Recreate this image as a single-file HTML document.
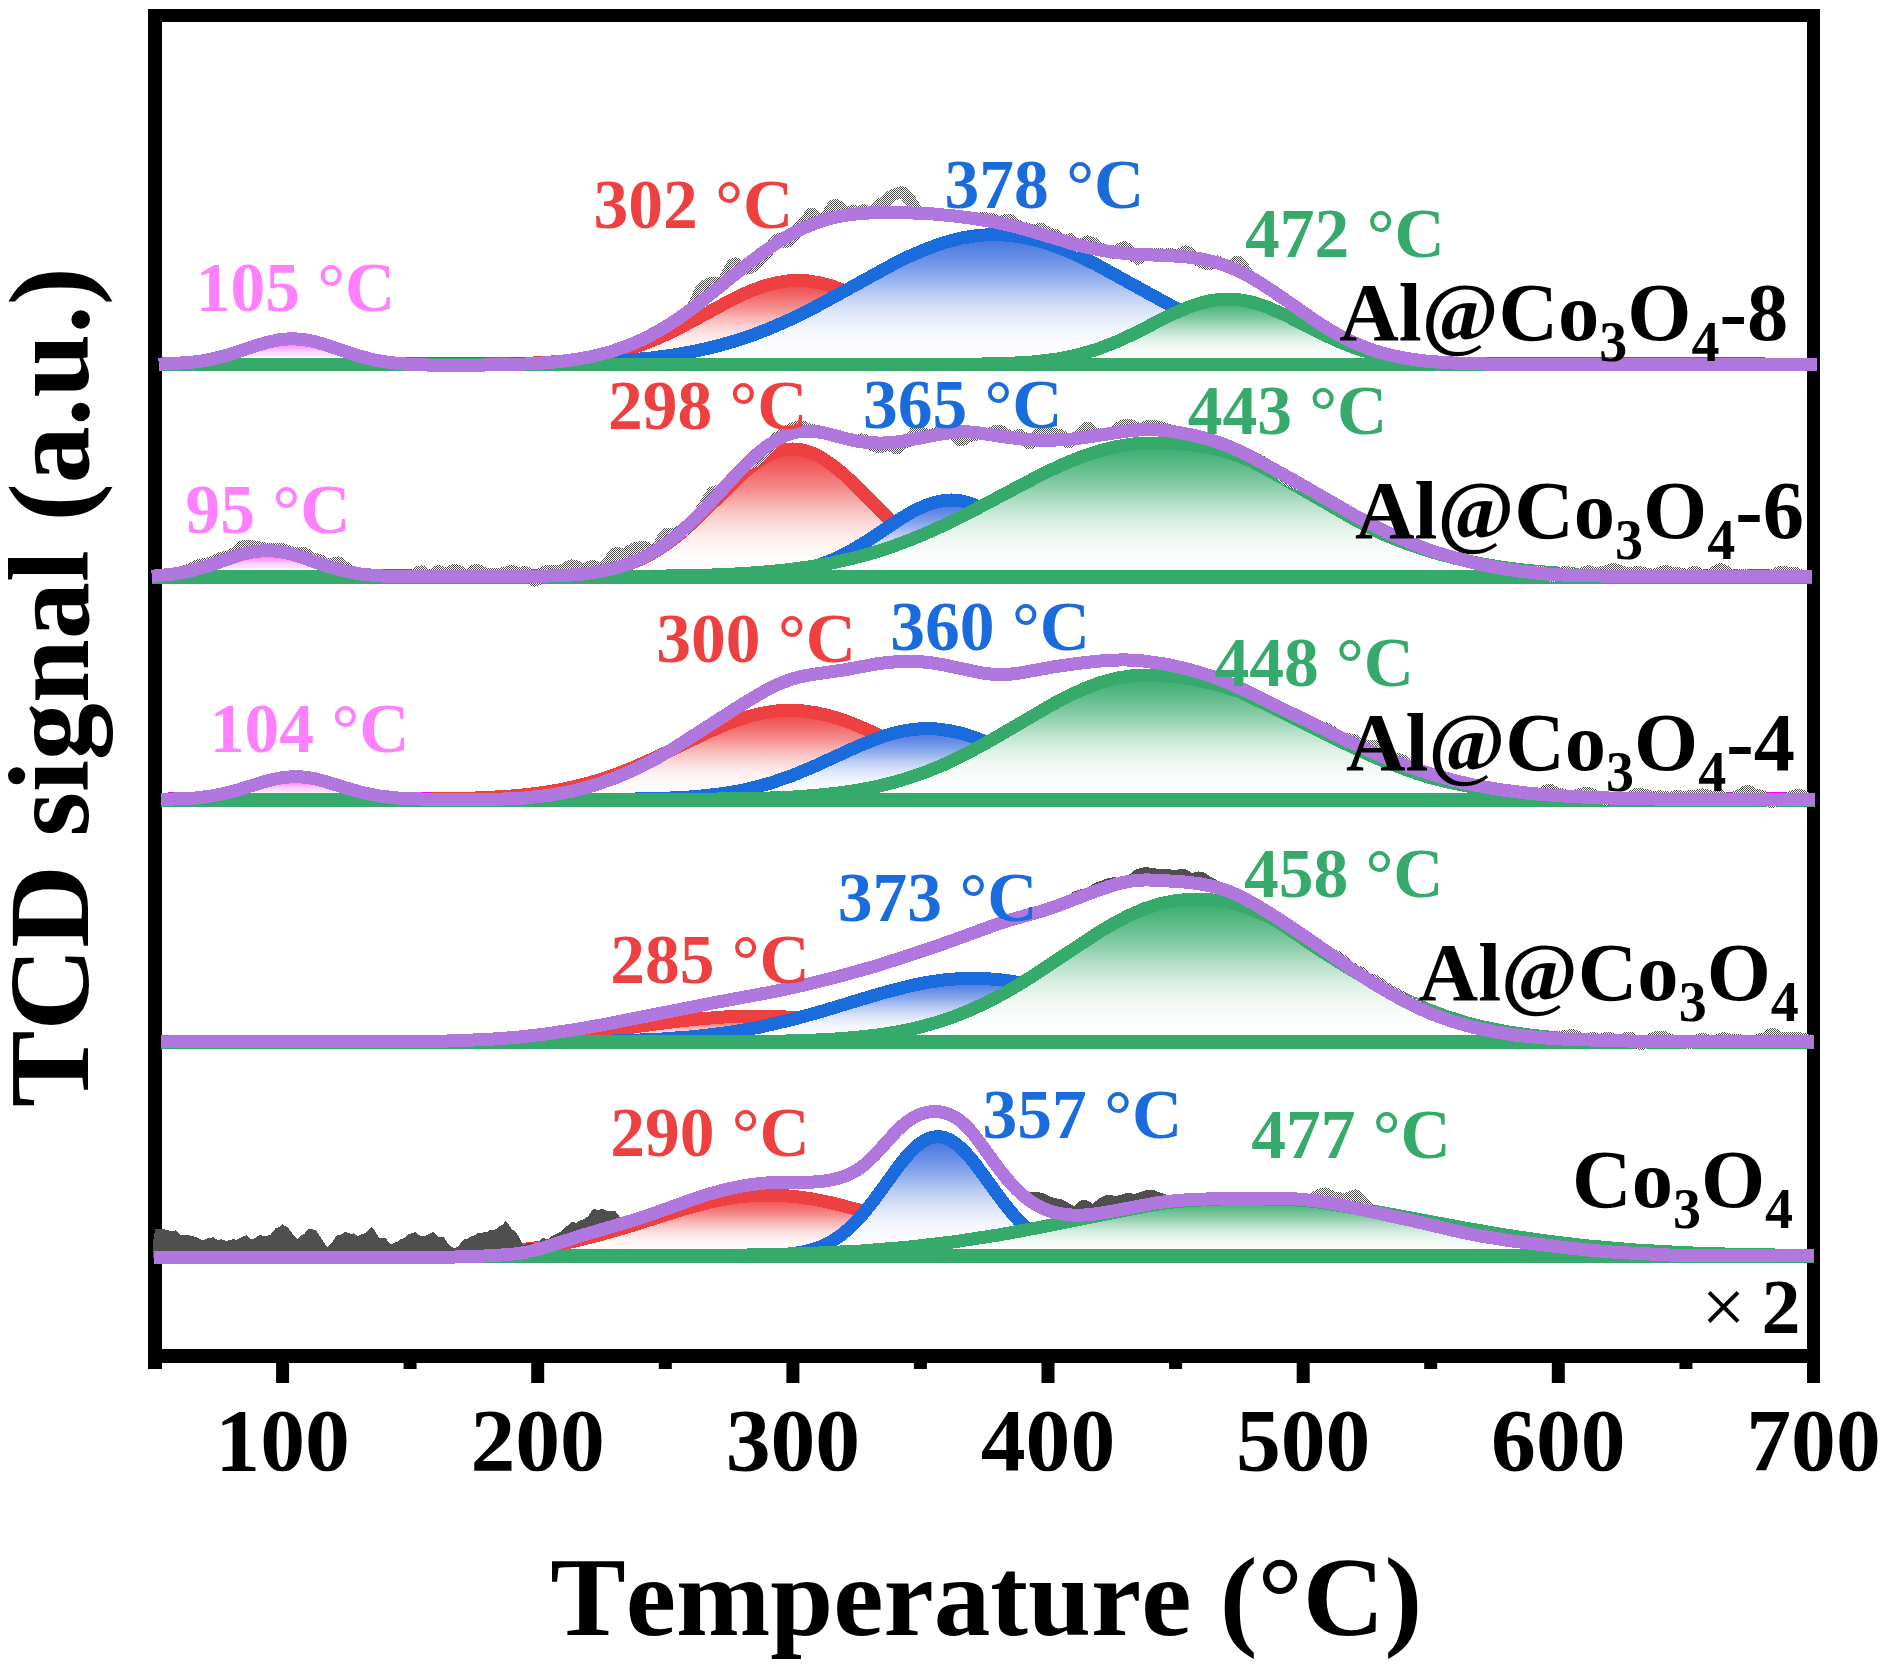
<!DOCTYPE html>
<html lang="en"><head><meta charset="utf-8"><title>TPD profiles</title>
<style>html,body{margin:0;padding:0;background:#fff}svg{display:block}text{font-family:"Liberation Serif",serif;font-weight:bold;font-kerning:none;font-variant-ligatures:none}</style></head><body>
<svg width="1885" height="1670" viewBox="0 0 1885 1670">
<defs>
<linearGradient id="gp" x1="0" y1="0" x2="0" y2="1"><stop offset="0" stop-color="#ff50ff"/><stop offset="0.06" stop-color="#ff5cff"/><stop offset="0.175" stop-color="#ff75ff"/><stop offset="0.31" stop-color="#ff96ff"/><stop offset="0.45" stop-color="#ffc0ff"/><stop offset="0.585" stop-color="#ffe0ff"/><stop offset="0.72" stop-color="#fff4ff"/><stop offset="0.85" stop-color="#fffcff"/><stop offset="1" stop-color="#ffffff"/></linearGradient>
<linearGradient id="gr" x1="0" y1="0" x2="0" y2="1"><stop offset="0" stop-color="#ee4040"/><stop offset="0.06" stop-color="#ef4d4d"/><stop offset="0.175" stop-color="#f26868"/><stop offset="0.31" stop-color="#f58c8c"/><stop offset="0.45" stop-color="#f9baba"/><stop offset="0.585" stop-color="#fcdddd"/><stop offset="0.72" stop-color="#fef3f3"/><stop offset="0.85" stop-color="#fffcfc"/><stop offset="1" stop-color="#ffffff"/></linearGradient>
<linearGradient id="gb" x1="0" y1="0" x2="0" y2="1"><stop offset="0" stop-color="#3e70df"/><stop offset="0.06" stop-color="#4c7ae1"/><stop offset="0.175" stop-color="#678ee6"/><stop offset="0.31" stop-color="#8ba9ec"/><stop offset="0.45" stop-color="#baccf3"/><stop offset="0.585" stop-color="#dce5f9"/><stop offset="0.72" stop-color="#f2f6fd"/><stop offset="0.85" stop-color="#fcfcfe"/><stop offset="1" stop-color="#ffffff"/></linearGradient>
<linearGradient id="gg" x1="0" y1="0" x2="0" y2="1"><stop offset="0" stop-color="#35aa6a"/><stop offset="0.06" stop-color="#43b074"/><stop offset="0.175" stop-color="#5fbc89"/><stop offset="0.31" stop-color="#86cca6"/><stop offset="0.45" stop-color="#b6e0c9"/><stop offset="0.585" stop-color="#dbf0e4"/><stop offset="0.72" stop-color="#f2f9f5"/><stop offset="0.85" stop-color="#fbfdfc"/><stop offset="1" stop-color="#ffffff"/></linearGradient>
<clipPath id="clip"><rect x="150" y="9" width="1668.5" height="1354"/></clipPath>
<pattern id="dith" width="2" height="2" patternUnits="userSpaceOnUse"><rect width="2" height="2" fill="#fff"/><rect width="1" height="1" fill="#4d4d4d"/><rect x="1" y="1" width="1" height="1" fill="#4d4d4d"/></pattern>
</defs>
<rect width="1885" height="1670" fill="#fff"/>
<g fill="#000">
<rect x="148" y="9" width="1672" height="13"/>
<rect x="148" y="9" width="14" height="1360"/>
<rect x="1807" y="9" width="13" height="1374"/>
<rect x="148" y="1349" width="1672" height="14"/>
<rect x="276.1" y="1349" width="13" height="34"/>
<rect x="531.2" y="1349" width="13" height="34"/>
<rect x="786.4" y="1349" width="13" height="34"/>
<rect x="1041.5" y="1349" width="13" height="34"/>
<rect x="1296.7" y="1349" width="13" height="34"/>
<rect x="1551.8" y="1349" width="13" height="34"/>
<rect x="403.6" y="1349" width="13" height="20"/>
<rect x="658.8" y="1349" width="13" height="20"/>
<rect x="913.9" y="1349" width="13" height="20"/>
<rect x="1169.1" y="1349" width="13" height="20"/>
<rect x="1424.2" y="1349" width="13" height="20"/>
<rect x="1679.4" y="1349" width="13" height="20"/>
</g>
<g clip-path="url(#clip)" stroke="none" shape-rendering="crispEdges">
<rect x="161.4" y="356.9" width="1603.6" height="1.3" fill="#FF00FF"/>
<path d="M165.2,363.9 189.4,362.4 209.9,359.3 229,354.4 258.3,344.5 269.8,341.1 281.3,338.8 292.8,338 304.3,338.8 315.7,341.1 327.2,344.5 357.8,354.8 369.3,357.9 379.5,360 391,361.8 403.8,363.1 436.9,364.3 L436.9,364.5 L165.2,364.5 Z" fill="url(#gp)"/>
<path d="M165.2,363.9 189.4,362.4 199.7,361.1 209.9,359.3 229,354.4 258.3,344.5 269.8,341.1 281.3,338.8 292.8,338 304.3,338.8 315.7,341.1 327.2,344.5 357.8,354.8 369.3,357.9 379.5,360 391,361.8 403.8,363.1 419.1,363.9 436.9,364.3" fill="none" stroke="#FF00FF" stroke-width="2.0" stroke-linejoin="round" stroke-linecap="butt"/>
<path d="M477.8,364.3 526.2,363.4 562,361.4 591.3,357.8 605.3,355.2 618.1,352.2 641.1,345 664,335.5 685.7,324.7 731.6,299.8 753.3,289.9 764.8,285.8 776.3,282.8 787.8,281 798,280.5 808.2,281 819.7,282.8 831.1,285.8 842.6,289.9 864.3,299.8 910.2,324.7 931.9,335.5 954.9,345 977.9,352.2 990.6,355.2 1004.6,357.8 1034,361.4 1069.7,363.4 1118.2,364.3 L1118.2,366.5 L477.8,366.5 Z" fill="url(#gr)"/>
<path d="M477.8,364.3 526.2,363.4 562,361.4 577.3,359.8 591.3,357.8 605.3,355.2 618.1,352.2 629.6,348.9 641.1,345 652.5,340.5 664,335.5 685.7,324.7 731.6,299.8 743.1,294.2 753.3,289.9 764.8,285.8 776.3,282.8 787.8,281 798,280.5 808.2,281 819.7,282.8 831.1,285.8 842.6,289.9 852.8,294.2 864.3,299.8 910.2,324.7 931.9,335.5 943.4,340.5 954.9,345 966.4,348.9 977.9,352.2 990.6,355.2 1004.6,357.8 1018.7,359.8 1034,361.4 1069.7,363.4 1118.2,364.3" fill="none" stroke="#EE4040" stroke-width="13.0" stroke-linejoin="round" stroke-linecap="round"/>
<path d="M489.2,364.3 570.9,363.1 600.2,362 627,360.3 651.3,358 674.2,354.9 695.9,351 716.3,346.3 734.2,341.2 752.1,335.3 769.9,328.4 789,320 822.2,303.3 892.4,264.7 910.2,255.9 925.6,249.3 943.4,242.8 961.3,238.1 977.9,235.4 994.4,234.5 1011,235.4 1027.6,238.1 1045.5,242.8 1063.3,249.3 1078.6,255.9 1096.5,264.7 1166.7,303.3 1199.8,320 1219,328.4 1236.8,335.3 1254.7,341.2 1272.6,346.3 1293,351 1314.7,354.9 1337.6,358 1361.9,360.3 1388.7,362 1418,363.1 1499.6,364.3 L1499.6,366.5 L489.2,366.5 Z" fill="url(#gb)"/>
<path d="M489.2,364.3 570.9,363.1 600.2,362 627,360.3 651.3,358 674.2,354.9 695.9,351 716.3,346.3 734.2,341.2 752.1,335.3 769.9,328.4 789,320 804.4,312.6 822.2,303.3 892.4,264.7 910.2,255.9 925.6,249.3 943.4,242.8 961.3,238.1 977.9,235.4 994.4,234.5 1011,235.4 1027.6,238.1 1045.5,242.8 1063.3,249.3 1078.6,255.9 1096.5,264.7 1166.7,303.3 1184.5,312.6 1199.8,320 1219,328.4 1236.8,335.3 1254.7,341.2 1272.6,346.3 1293,351 1314.7,354.9 1337.6,358 1361.9,360.3 1388.7,362 1418,363.1 1499.6,364.3" fill="none" stroke="#1A6CDC" stroke-width="13.0" stroke-linejoin="round" stroke-linecap="round"/>
<path d="M966.4,364.3 1004.6,363.6 1032.7,362 1057,359.1 1078.6,354.7 1097.8,349.1 1116.9,341.6 1134.8,333.3 1171.8,314.4 1189.6,306.7 1199.8,303.3 1208.8,301 1219,299.4 1227.9,299 1236.8,299.4 1247,301 1256,303.3 1266.2,306.7 1284,314.4 1321,333.3 1338.9,341.6 1358,349.1 1377.2,354.7 1398.9,359.1 1423.1,362 1451.2,363.6 1489.4,364.3 L1489.4,366.5 L966.4,366.5 Z" fill="url(#gg)"/>
<path d="M966.4,364.3 1004.6,363.6 1032.7,362 1057,359.1 1078.6,354.7 1097.8,349.1 1116.9,341.6 1134.8,333.3 1171.8,314.4 1189.6,306.7 1199.8,303.3 1208.8,301 1219,299.4 1227.9,299 1236.8,299.4 1247,301 1256,303.3 1266.2,306.7 1284,314.4 1321,333.3 1338.9,341.6 1358,349.1 1377.2,354.7 1398.9,359.1 1423.1,362 1451.2,363.6 1489.4,364.3" fill="none" stroke="#35AA6A" stroke-width="13.0" stroke-linejoin="round" stroke-linecap="round"/>
<rect x="158.7" y="357.6" width="1658.7" height="13.8" fill="#35AA6A"/>
<path d="M685.7,313.4 689.5,310.3 692.1,307.6 694.6,303.4 701,289.5 704.8,285.7 708.7,283.7 712.5,282.5 715.1,282.5 718.9,283.4 721.4,282.8 722.7,281.6 725.3,277.9 731.6,265.8 732.9,264.3 734.2,263.5 735.5,263.3 736.7,263.6 743.1,267.8 745.7,268.7 749.5,268.2 753.3,266.3 757.2,262.8 769.9,248.4 776.3,240.1 777.6,239.4 778.8,239.3 783.9,242 785.2,242.3 787.8,241.7 790.3,239.9 792.9,237 798,229 800.5,226.3 804.4,223.1 809.5,215.5 810.7,214 812,213.5 813.3,213.9 814.6,215.2 818.4,220.2 819.7,221 820.9,221.3 822.2,221.1 824.8,219.2 826,217.6 832.4,206.4 833.7,205.2 835,204.7 836.3,205 837.5,205.8 842.6,210.3 846.5,211.8 849,211.9 854.1,211.2 857.9,211.6 863,210.3 865.6,211 869.4,213.4 872,213.4 874.5,211.4 879.6,204.9 882.2,202.9 886,201.1 891.1,196.3 893.7,194.8 901.3,192.3 902.6,192.4 905.1,194.4 910.2,200.3 915.3,208.2 917.9,211.2 920.4,212.4 925.6,213.5" fill="none" stroke="url(#dith)" stroke-width="12" stroke-linejoin="round" stroke-linecap="round"/>
<path d="M976.6,218.9 981.7,217.4 984.2,217.5 988.1,218.3 993.2,218.7 998.3,221.1 1000.8,221.7 1005.9,219.6 1008.5,219.2 1011,220.3 1018.7,226 1021.2,226.8 1025.1,227.2 1031.4,229.8 1034,229.8 1039.1,228.4 1041.6,228.4 1049.3,233.2 1055.7,234.4 1058.2,236.4 1062.1,240.5 1063.3,241.2 1064.6,241.3 1068.4,239 1069.7,238.6 1071,239.1 1072.3,240.2 1076.1,245.2 1077.4,246.2 1078.6,246.5 1079.9,246.1 1083.7,242.7 1086.3,241.1 1087.6,240.9 1090.1,241.5 1094,243.2 1101.6,248.7 1111.8,253.4 1113.1,253.7 1115.6,252.9 1120.7,247.9 1122,247 1124.6,246.8 1128.4,249.2 1130.9,251.9 1134.8,257.1 1137.3,259.2 1138.6,259.2 1139.9,258.6 1143.7,255 1146.3,253.9 1151.4,253.9 1156.5,253.3 1164.1,254.2 1170.5,253.5 1176.9,254.7 1179.4,254 1184.5,251 1185.8,250.9 1188.4,251.9 1194.7,258.4 1197.3,260.4 1204.9,264.1 1207.5,265 1210,264.5 1215.1,261.3 1217.7,260.9 1220.3,262.1 1225.4,266.6 1227.9,267.6 1230.5,266.7 1236.8,261.2 1238.1,261.4 1239.4,262 1241.9,264.3 1248.3,274.2 1252.1,278.1" fill="none" stroke="url(#dith)" stroke-width="11" stroke-linejoin="round" stroke-linecap="round"/>
<path d="M165.2,363.9 189.4,362.5 199.7,361.3 209.9,359.5 229,354.8 258.3,345 268.5,342 280,339.6 291.5,338.7 303,339.4 315.7,341.9 327.2,345.3 356.6,355.3 373.2,359.7 389.7,362.6 408.9,364.3 429.3,365.1 458.6,365.3 494.3,364.9 523.7,364.1 542.8,363 560.7,361.4 576,359.4 591.3,356.6 610.4,351.8 629.6,345.1 647.4,337.1 665.3,327.1 680.6,317 695.9,305.9 745.7,265.7 763.5,252.1 781.4,240 790.3,234.7 799.3,230.1 808.2,226 818.4,222 828.6,218.9 838.8,216.5 849,214.7 860.5,213.5 872,212.8 884.7,212.6 912.8,213 933.2,214 953.6,215.9 974,218.5 994.4,222 1013.6,226.2 1030.2,230.8 1072.3,243.6 1086.3,247.1 1101.6,250.2 1115.6,252.4 1130.9,254 1174.3,256 1188.4,257.1 1202.4,259.2 1215.1,262.2 1225.4,265.5 1234.3,269.1 1244.5,273.9 1254.7,279.6 1272.6,291 1318.5,322.9 1332.5,331.6 1346.6,339.2 1360.6,345.6 1375.9,351.2 1391.2,355.4 1407.8,358.7 1424.4,360.9 1442.2,362.4 1463.9,363.5 1490.7,364.1 1562.2,364.5 1810.9,364.5" fill="none" stroke="#B078DE" stroke-width="13.0" stroke-linejoin="round" stroke-linecap="square"/>
<rect x="160.1" y="569.4" width="1627.9" height="1.3" fill="#FF00FF"/>
<path d="M158.3,575.6 174.9,573.9 190.2,571 205.5,566.8 233.6,557.1 245.1,553.6 256.5,551.3 268,550.5 278.2,551.3 289.7,553.6 299.9,556.7 330.5,567.3 351,572.4 362.4,574.3 375.2,575.6 407.1,576.8 L407.1,577.0 L158.3,577.0 Z" fill="url(#gp)"/>
<path d="M158.3,575.6 174.9,573.9 190.2,571 205.5,566.8 233.6,557.1 245.1,553.6 256.5,551.3 268,550.5 278.2,551.3 289.7,553.6 299.9,556.7 330.5,567.3 340.7,570.2 351,572.4 362.4,574.3 375.2,575.6 389.2,576.4 407.1,576.8" fill="none" stroke="#FF00FF" stroke-width="2.0" stroke-linejoin="round" stroke-linecap="butt"/>
<path d="M516.8,576.8 561.5,575.7 578,574.5 592.1,572.9 604.8,570.7 617.6,567.7 629.1,564 640.6,559.3 650.8,554.2 659.7,548.8 669.9,541.8 680.1,533.8 698,517.7 737.5,478.5 746.4,470.5 755.4,463.5 765.6,456.9 774.5,452.6 783.4,450 792.4,449 801.3,449.8 811.5,452.7 820.4,457 830.6,463.7 839.6,470.7 848.5,478.7 888,517.9 905.9,534 916.1,542 926.3,549 935.2,554.3 945.5,559.4 956.9,564.1 968.4,567.8 981.2,570.8 993.9,572.9 1008,574.5 1024.6,575.7 1069.2,576.8 L1069.2,579.0 L516.8,579.0 Z" fill="url(#gr)"/>
<path d="M516.8,576.8 561.5,575.7 578,574.5 592.1,572.9 604.8,570.7 617.6,567.7 629.1,564 640.6,559.3 650.8,554.2 659.7,548.8 669.9,541.8 680.1,533.8 698,517.7 737.5,478.5 746.4,470.5 755.4,463.5 765.6,456.9 774.5,452.6 783.4,450 792.4,449 801.3,449.8 806.4,451 811.5,452.7 820.4,457 830.6,463.7 839.6,470.7 848.5,478.7 888,517.9 905.9,534 916.1,542 926.3,549 935.2,554.3 945.5,559.4 956.9,564.1 968.4,567.8 981.2,570.8 993.9,572.9 1008,574.5 1024.6,575.7 1069.2,576.8" fill="none" stroke="#EE4040" stroke-width="13.0" stroke-linejoin="round" stroke-linecap="round"/>
<path d="M713.3,576.8 749,576 774.5,574.2 796.2,571.1 806.4,568.8 816.6,565.9 833.2,559.6 851,550.7 867.6,540.7 902.1,517.8 918.7,508.6 927.6,504.7 935.2,502.3 944.2,500.5 951.8,500 959.5,500.6 967.1,502.3 974.8,505.1 982.5,508.9 996.5,517.8 1027.1,540.6 1041.1,550.3 1056.4,559 1071.8,565.6 1089.6,570.8 1108.8,574.1 1131.7,576 1163.6,576.8 L1163.6,579.0 L713.3,579.0 Z" fill="url(#gb)"/>
<path d="M713.3,576.8 749,576 774.5,574.2 796.2,571.1 806.4,568.8 816.6,565.9 833.2,559.6 851,550.7 867.6,540.7 902.1,517.8 911,512.5 918.7,508.6 927.6,504.7 935.2,502.3 944.2,500.5 951.8,500 959.5,500.6 967.1,502.3 974.8,505.1 982.5,508.9 996.5,517.8 1027.1,540.6 1041.1,550.3 1056.4,559 1071.8,565.6 1080.7,568.5 1089.6,570.8 1108.8,574.1 1131.7,576 1163.6,576.8" fill="none" stroke="#1A6CDC" stroke-width="13.0" stroke-linejoin="round" stroke-linecap="round"/>
<path d="M607.4,576.8 695.4,575.6 728.6,574.4 756.6,572.7 783.4,570.3 807.7,567.1 830.6,563.2 852.3,558.4 871.5,553.3 890.6,547.2 909.7,540.1 930.1,531.6 965.9,514.4 1042.4,474 1061.5,465 1078.1,458.1 1097.3,451.5 1116.4,446.6 1134.3,443.9 1152.1,443 1178.9,443.9 1201.9,446.3 1221,450.4 1240.2,456.6 1251.6,461.2 1264.4,468 1298.8,487.3 1352.4,518.2 1380.5,533.2 1399.6,540.9 1417.5,547.3 1436.6,553.3 1455.8,558.4 1478.7,563.3 1501.7,567.2 1525.9,570.3 1552.7,572.7 1582.1,574.4 1615.2,575.6 1704.5,576.8 L1704.5,579.0 L607.4,579.0 Z" fill="url(#gg)"/>
<path d="M607.4,576.8 695.4,575.6 728.6,574.4 756.6,572.7 783.4,570.3 807.7,567.1 830.6,563.2 852.3,558.4 871.5,553.3 890.6,547.2 909.7,540.1 930.1,531.6 946.7,523.9 965.9,514.4 1042.4,474 1061.5,465 1078.1,458.1 1097.3,451.5 1116.4,446.6 1134.3,443.9 1152.1,443 1178.9,443.9 1190.4,444.8 1201.9,446.3 1212.1,448.2 1221,450.4 1229.9,453 1240.2,456.6 1251.6,461.2 1264.4,468 1298.8,487.3 1352.4,518.2 1380.5,533.2 1399.6,540.9 1417.5,547.3 1436.6,553.3 1455.8,558.4 1478.7,563.3 1501.7,567.2 1525.9,570.3 1552.7,572.7 1582.1,574.4 1615.2,575.6 1704.5,576.8" fill="none" stroke="#35AA6A" stroke-width="13.0" stroke-linejoin="round" stroke-linecap="round"/>
<rect x="151.8" y="570.1" width="1660.0" height="13.8" fill="#35AA6A"/>
<path d="M181.3,572.6 185.1,570.8 191.5,568.8 197.9,565.2 206.8,563.8 213.2,561.8 220.8,558 228.5,556.4 234.9,552.9 242.5,546.2 245.1,545.5 257.8,547.1 266.8,549 282.1,548.7 288.4,551.5 292.3,552.7 296.1,553 301.2,552.6 303.8,553 306.3,554.3 312.7,558.5 320.3,560.2 325.4,563.3 328,564.3 330.5,564.3 335.6,562.7 338.2,562.4 339.5,562.9 345.9,568.1 353.5,572.7" fill="none" stroke="url(#dith)" stroke-width="12" stroke-linejoin="round" stroke-linecap="round"/>
<path d="M410.9,576.5 414.7,574.8 418.6,572.1 421.1,571.3 422.4,571.7 427.5,576 428.8,576.4 431.3,575.6 435.2,572.5 437.7,571.4 439,571.4 445.4,573 447.9,572.5 451.7,570.8 454.3,570.1 458.1,570.8 464.5,574.4 467,575.2 469.6,574.4 473.4,571.2 476,570 478.5,570.4 484.9,574 488.7,574.6 504,573.2 510.4,571.3 513,571.1 519.4,573.3 524.5,572.2 525.7,572.2 527,572.8 528.3,573.8 532.1,578.7 534.7,580.6 535.9,580.5 537.2,579.7 542.3,573.1 544.9,571.4 552.5,570.6 555.1,570.9 557.6,571.8 560.2,571.8 567.8,566.9 571.7,565.5 575.5,565.7 580.6,569.1 583.1,569.9 585.7,569.2 589.5,566.6 592.1,565.7 594.6,566.4 598.5,568.8 601,569.1 602.3,568.7 604.8,566.6 612.5,556.2 615,553.6 617.6,552.9 621.4,553.9 624,554 626.5,552.9 632.9,549 641.8,546.7 644.4,547 650.8,550.2 653.3,550.4 654.6,549.9 657.1,548 658.4,546.3 663.5,537 666.1,534.2 667.3,533.8 671.2,534.6 673.7,534.3 678.8,532 682.7,531.1 685.2,529.9 687.8,527.4 692.9,520.3 701.8,509.3 712,493.3 713.3,492 717.1,491 719.6,489.8 726,484.1 728.6,482.4" fill="none" stroke="url(#dith)" stroke-width="12" stroke-linejoin="round" stroke-linecap="round"/>
<path d="M742.6,467.7 745.2,465.1 747.7,463.3 754.1,461.9 756.6,460.3 761.7,454.2 768.1,448.1 775.8,438.8 778.3,436.9 783.4,434.1 789.8,429.6 792.4,428.3 800,426.5 802.6,426.5 810.2,429.8 815.3,430.6 823,432.5" fill="none" stroke="url(#dith)" stroke-width="12" stroke-linejoin="round" stroke-linecap="round"/>
<path d="M857.4,440.8 861.3,439.4 865.1,439.8 874,445.7 876.6,446.7 880.4,447.4 882.9,446.7 886.8,444.1 888,443.7 889.3,443.8 894.4,447.9 895.7,448.4 897,448.3 898.3,447.5 903.4,442.7 908.5,441 909.7,440.1 914.8,432.7 916.1,431.3 917.4,430.7 918.7,430.7 919.9,431.3 925,434.5 928.9,435.5 931.4,435.2 935.2,433.7 937.8,433.1 944.2,434.3 949.3,432.8 950.6,432.8 953.1,434.3 958.2,439.5 960.8,440.4 963.3,439.6 968.4,436.6 973.5,435.3 978.6,433.1 981.2,432.7 986.3,434.1 988.8,434.2 995.2,430.9 997.8,430.5 1002.9,432.1 1009.2,436.7 1011.8,437.8 1014.3,437.3 1018.2,435.3 1019.4,435.1 1020.7,435.5 1023.3,437.5 1027.1,441.9 1028.4,442.9 1029.7,443.2 1030.9,442.9 1032.2,442 1037.3,435.4 1039.9,433.7 1045,433.8 1050.1,433.3 1055.2,434.4 1060.3,434.9 1062.8,437 1066.7,441.5 1067.9,442.3 1069.2,442.3 1070.5,441.8 1075.6,437.3 1079.4,435 1082,432.5 1084.5,429 1085.8,427.9 1087.1,427.5 1088.3,427.8 1089.6,428.7 1094.7,433.2 1098.5,435" fill="none" stroke="url(#dith)" stroke-width="12" stroke-linejoin="round" stroke-linecap="round"/>
<path d="M1112.6,432.6 1120.2,427 1126.6,424.6 1131.7,425.5 1138.1,428.5 1140.6,428.9 1143.2,428.1 1148.3,425.6 1152.1,425.6 1161.1,427.2 1175.1,431.7" fill="none" stroke="url(#dith)" stroke-width="12" stroke-linejoin="round" stroke-linecap="round"/>
<path d="M1227.4,445.6 1231.2,447.3 1241.4,453.3 1249.1,455.6 1261.8,460.9 1273.3,468.2 1287.4,480.7 1293.7,483.2 1302.7,485.5" fill="none" stroke="url(#dith)" stroke-width="11" stroke-linejoin="round" stroke-linecap="round"/>
<path d="M1533.6,572.6 1538.7,571.6 1542.5,571.7 1545.1,572.6 1550.2,575.8 1552.7,576.4 1555.3,575.9 1561.6,572.5 1564.2,571.7 1568,571.7 1575.7,574.7 1578.2,575 1580.8,574 1585.9,571 1588.4,570.8 1593.5,572.3 1597.4,572.5 1603.7,571.5 1611.4,569 1613.9,568.7 1616.5,569.1 1622.9,571.7 1628,573 1630.5,572.9 1636.9,571.6 1639.5,571.6 1648.4,573.7 1652.2,574.1 1656,573.6 1661.2,571.4 1663.7,570.8 1667.5,571 1675.2,572.9 1680.3,573 1686.7,574.6 1687.9,574.4 1693,571.9 1694.3,571.6 1696.9,572.3 1702,575.4 1704.5,576 1708.4,575.2 1717.3,569.9 1719.8,568.9 1721.1,568.9 1723.7,569.6 1731.3,574.7 1733.9,575.6 1741.5,574.3 1756.8,576.5 1760.7,576.5 1770.9,574.9 1779.8,571.8 1783.6,571.3 1790,572.8 1796.4,572.8 1802.8,576.5 1805.3,577.4" fill="none" stroke="url(#dith)" stroke-width="11" stroke-linejoin="round" stroke-linecap="round"/>
<path d="M158.3,575.6 174.9,573.9 190.2,571 206.8,566.4 233.6,557.1 243.8,553.9 255.3,551.4 266.8,550.5 278.2,551.3 289.7,553.6 301.2,557.1 328,566.5 344.6,571.1 359.9,573.9 377.7,575.8 395.6,576.6 418.6,576.9 527,576.7 565.3,575.4 580.6,574.2 593.3,572.6 612.5,568.8 621.4,566.3 630.3,563.2 639.3,559.5 646.9,555.7 655.9,550.6 663.5,545.6 677.5,534.8 691.6,522 705.6,507.7 738.8,471.7 747.7,462.8 756.6,454.5 766.8,446.4 775.8,440.5 786,435.4 794.9,432.4 805.1,431 815.3,431.4 825.5,433.2 847.2,439 857.4,441.2 868.9,442.7 880.4,443.1 890.6,442.7 902.1,441.4 941.6,433.9 958.2,431.9 967.1,431.8 976.1,432.5 1008,437.4 1023.3,439.2 1037.3,440.1 1051.3,440.2 1064.1,439.7 1076.9,438.6 1127.9,430.9 1139.4,429.9 1149.6,429.7 1158.5,430 1168.7,430.9 1190.4,434.6 1209.5,439.4 1227.4,445.7 1242.7,452.6 1260.6,461.9 1296.3,481.8 1356.2,516.3 1374.1,525.9 1392,534.8 1412.4,543.7 1432.8,551.3 1454.5,557.9 1477.4,563.7 1499.1,568 1520.8,571.3 1545.1,573.9 1568,575.4 1633.1,576.6 1805.3,577" fill="none" stroke="#B078DE" stroke-width="13.0" stroke-linejoin="round" stroke-linecap="square"/>
<rect x="167.8" y="792.0" width="1620.2" height="1.3" fill="#FF00FF"/>
<path d="M167.8,799.3 194.5,798.1 215,795.5 234.1,791.1 273.6,779.3 285.1,777.2 295.3,776.6 305.5,777.2 317,779.3 357.8,791.5 377,795.7 399.9,798.3 429.3,799.4 L429.3,799.6 L167.8,799.6 Z" fill="url(#gp)"/>
<path d="M167.8,799.3 194.5,798.1 215,795.5 234.1,791.1 263.4,782 273.6,779.3 285.1,777.2 295.3,776.6 305.5,777.2 317,779.3 327.2,782 357.8,791.5 377,795.7 388.5,797.3 399.9,798.3 429.3,799.4" fill="none" stroke="#FF00FF" stroke-width="2.0" stroke-linejoin="round" stroke-linecap="butt"/>
<path d="M406.3,799.4 465,798.5 507.1,796.4 526.2,794.7 542.8,792.6 559.4,789.9 574.7,786.6 601.5,779.3 629.6,769.1 655.1,757.8 710,731.3 724,725.2 736.7,720.3 750.8,715.9 764.8,712.7 777.6,710.9 790.3,710.3 803.1,710.9 815.8,712.7 829.9,715.9 843.9,720.3 856.7,725.2 870.7,731.3 925.6,757.8 951.1,769.1 979.1,779.3 1005.9,786.6 1021.2,789.9 1037.8,792.6 1054.4,794.7 1073.5,796.4 1115.6,798.5 1174.3,799.4 L1174.3,801.6 L406.3,801.6 Z" fill="url(#gr)"/>
<path d="M406.3,799.4 465,798.5 507.1,796.4 526.2,794.7 542.8,792.6 559.4,789.9 574.7,786.6 588.8,783.1 601.5,779.3 615.5,774.5 629.6,769.1 655.1,757.8 710,731.3 724,725.2 736.7,720.3 750.8,715.9 764.8,712.7 777.6,710.9 790.3,710.3 803.1,710.9 815.8,712.7 829.9,715.9 843.9,720.3 856.7,725.2 870.7,731.3 925.6,757.8 951.1,769.1 965.1,774.5 979.1,779.3 991.9,783.1 1005.9,786.6 1021.2,789.9 1037.8,792.6 1054.4,794.7 1073.5,796.4 1115.6,798.5 1174.3,799.4" fill="none" stroke="#EE4040" stroke-width="13.0" stroke-linejoin="round" stroke-linecap="round"/>
<path d="M611.7,799.4 658.9,798.6 693.4,796.8 722.7,793.7 748.2,789 771.2,782.9 794.2,774.8 814.6,766.2 860.5,745.1 882.2,736.7 893.7,733.2 905.1,730.6 916.6,729.1 926.8,728.6 937,729 948.5,730.5 960,732.9 972.8,736.8 994.4,745.2 1040.4,766.3 1060.8,774.9 1083.7,782.9 1106.7,789.1 1132.2,793.7 1161.6,796.9 1196,798.6 1243.2,799.4 L1243.2,801.6 L611.7,801.6 Z" fill="url(#gb)"/>
<path d="M611.7,799.4 658.9,798.6 693.4,796.8 722.7,793.7 735.5,791.6 748.2,789 771.2,782.9 794.2,774.8 814.6,766.2 860.5,745.1 882.2,736.7 893.7,733.2 905.1,730.6 916.6,729.1 926.8,728.6 937,729 948.5,730.5 960,732.9 972.8,736.8 994.4,745.2 1040.4,766.3 1060.8,774.9 1083.7,782.9 1106.7,789.1 1119.5,791.6 1132.2,793.7 1161.6,796.9 1196,798.6 1243.2,799.4" fill="none" stroke="#1A6CDC" stroke-width="13.0" stroke-linejoin="round" stroke-linecap="round"/>
<path d="M690.8,799.4 763.5,798.3 790.3,797.2 814.6,795.5 836.3,793.3 856.7,790.4 875.8,786.8 894.9,782.1 911.5,777 926.8,771.6 943.4,764.8 960,757 989.3,741.3 1053.1,704 1069.7,695.4 1083.7,688.9 1100.3,682.6 1115.6,678.4 1130.9,675.9 1145,675.1 1169.2,676.2 1193.5,679.4 1215.1,684.1 1239.4,691.6 1264.9,703.8 1336.3,739.5 1373.3,756.6 1395,765.5 1415.4,773 1428.2,777.1 1448.6,782.2 1471.6,786.8 1494.5,790.4 1518.8,793.3 1545.6,795.5 1573.6,797.1 1606.8,798.3 1694.8,799.4 L1694.8,801.6 L690.8,801.6 Z" fill="url(#gg)"/>
<path d="M690.8,799.4 763.5,798.3 790.3,797.2 814.6,795.5 836.3,793.3 856.7,790.4 875.8,786.8 894.9,782.1 911.5,777 926.8,771.6 943.4,764.8 960,757 989.3,741.3 1053.1,704 1069.7,695.4 1083.7,688.9 1100.3,682.6 1115.6,678.4 1130.9,675.9 1145,675.1 1169.2,676.2 1182,677.6 1193.5,679.4 1215.1,684.1 1239.4,691.6 1264.9,703.8 1336.3,739.5 1373.3,756.6 1395,765.5 1415.4,773 1428.2,777.1 1448.6,782.2 1471.6,786.8 1494.5,790.4 1518.8,793.3 1545.6,795.5 1573.6,797.1 1606.8,798.3 1694.8,799.4" fill="none" stroke="#35AA6A" stroke-width="13.0" stroke-linejoin="round" stroke-linecap="round"/>
<rect x="161.3" y="792.7" width="1653.6" height="13.8" fill="#35AA6A"/>
<path d="M1315.9,725.5 1319.8,726.6 1324.9,727.3 1327.4,728.2 1335.1,733.6 1341.4,737 1345.3,738.5 1351.7,739.1 1354.2,739.7 1356.8,741.1 1361.9,744.7 1364.4,745.8 1367,746 1373.3,745.2 1375.9,745.9 1378.4,748 1384.8,755.3 1387.4,757.3 1391.2,758.5 1397.6,758.6 1402.7,760.2 1418,769.8" fill="none" stroke="url(#dith)" stroke-width="11" stroke-linejoin="round" stroke-linecap="round"/>
<path d="M1532.8,793.7 1539.2,793.7 1541.7,793.1 1548.1,789 1550.7,789.5 1555.8,792.3 1558.3,793.2 1571.1,796 1573.6,795.7 1581.3,793.2 1587.7,792.4 1591.5,793.4 1596.6,796.1 1606.8,800.2 1609.4,799.8 1613.2,798 1615.7,797.4 1622.1,798.2 1627.2,797.7 1631,796.3 1636.1,793.7 1638.7,793.2 1646.4,794.6 1652.7,796.3 1660.4,795.8 1669.3,797.3 1677,795.3 1682.1,796.5 1684.6,796.6 1689.7,795.7 1694.8,795.6 1702.5,794 1705,794.3 1711.4,796.2 1714,795.9 1717.8,794.5 1719.1,794.4 1721.6,795.4 1725.4,798.8 1728,799.9 1730.6,799.3 1740.8,793.8 1744.6,791.3 1747.1,790.4 1749.7,791.2 1754.8,794.6 1759.9,794.8 1762.4,795.6 1768.8,801.2 1771.4,802.4 1773.9,802 1779,800 1786.7,798.1 1793.1,795.6 1798.2,794.2 1802,795.1 1808.4,798.2" fill="none" stroke="url(#dith)" stroke-width="11" stroke-linejoin="round" stroke-linecap="round"/>
<path d="M167.8,799.3 194.5,798.1 215,795.5 234.1,791.1 263.4,782 273.6,779.3 283.9,777.4 294.1,776.6 304.3,777.1 314.5,778.7 324.7,781.3 351.5,789.6 365.5,793.3 380.8,796.2 397.4,798 412.7,798.8 434.4,799.3 491.8,799.5 522.4,798.2 549.2,795.4 572.2,791.2 593.9,785.4 615.5,777.8 637.2,768.4 653.8,759.9 671.7,749.6 740.6,705.4 761,693.1 772.5,687 781.4,682.9 790.3,679.5 800.5,676.7 812,674.5 842.6,670.2 877.1,663.8 888.6,662.4 900,661.5 915.3,661.3 929.4,662.5 943.4,664.8 981.7,672.9 991.9,674.2 1002.1,674.6 1011,674.1 1020,673 1054.4,666.7 1081.2,663 1104.2,660.6 1122,659.9 1132.2,660.1 1142.4,660.9 1166.7,664.3 1189.6,669.5 1211.3,676.2 1227.9,682.6 1247,691.2 1338.9,736.8 1361.9,747.5 1382.3,756.4 1405.2,765.4 1429.5,773.5 1452.4,780.1 1474.1,785.1 1499.6,789.6 1526.4,793 1554.5,795.5 1587.7,797.3 1623.4,798.5 1665.5,799.2 1808.4,799.6" fill="none" stroke="#B078DE" stroke-width="13.0" stroke-linejoin="round" stroke-linecap="square"/>
<path d="M396.1,1041.8 476.5,1040.6 508.4,1039.4 537.7,1037.6 590,1032.7 670.4,1022.1 697.2,1019.1 726.5,1016.8 754.6,1016 782.7,1016.8 812,1019.1 838.8,1022.1 919.2,1032.7 971.5,1037.6 1000.8,1039.4 1032.7,1040.6 1113.1,1041.8 L1113.1,1044.0 L396.1,1044.0 Z" fill="url(#gr)"/>
<path d="M396.1,1041.8 476.5,1040.6 508.4,1039.4 537.7,1037.6 563.2,1035.5 590,1032.7 670.4,1022.1 697.2,1019.1 726.5,1016.8 754.6,1016 782.7,1016.8 812,1019.1 838.8,1022.1 919.2,1032.7 946,1035.5 971.5,1037.6 1000.8,1039.4 1032.7,1040.6 1113.1,1041.8" fill="none" stroke="#EE4040" stroke-width="13.0" stroke-linejoin="round" stroke-linecap="round"/>
<path d="M547.9,1041.8 609.2,1041.1 655.1,1039.5 694.6,1036.6 729.1,1032.5 759.7,1027.1 791.6,1019.7 819.7,1011.9 880.9,993.4 911.5,985.5 928.1,982.2 943.4,980 958.7,978.7 972.8,978.3 986.8,978.7 1002.1,980 1017.4,982.2 1034,985.5 1064.6,993.4 1125.8,1011.9 1153.9,1019.7 1185.8,1027.1 1216.4,1032.5 1250.9,1036.6 1290.4,1039.5 1336.3,1041.1 1397.6,1041.8 L1397.6,1044.0 L547.9,1044.0 Z" fill="url(#gb)"/>
<path d="M547.9,1041.8 609.2,1041.1 655.1,1039.5 694.6,1036.6 729.1,1032.5 759.7,1027.1 791.6,1019.7 819.7,1011.9 880.9,993.4 911.5,985.5 928.1,982.2 943.4,980 958.7,978.7 972.8,978.3 986.8,978.7 1002.1,980 1017.4,982.2 1034,985.5 1064.6,993.4 1125.8,1011.9 1153.9,1019.7 1185.8,1027.1 1216.4,1032.5 1250.9,1036.6 1290.4,1039.5 1336.3,1041.1 1397.6,1041.8" fill="none" stroke="#1A6CDC" stroke-width="13.0" stroke-linejoin="round" stroke-linecap="round"/>
<path d="M727.8,1041.8 803.1,1040.6 831.1,1039.3 855.4,1037.5 878.4,1034.9 898.8,1031.7 917.9,1027.6 937,1022.3 953.6,1016.7 970.2,1010.1 986.8,1002.4 1003.4,993.7 1034,975.2 1097.8,932.9 1114.4,923.1 1128.4,915.7 1145,908.5 1160.3,903.6 1175.6,900.6 1190.9,899.6 1212.6,900 1229.2,902.3 1245.8,907.1 1264.9,915 1272.6,918.5 1275.1,920.1 1295.5,933.4 1315.9,947.6 1346.6,966.8 1368.2,979.8 1386.1,989.8 1406.5,1000.1 1425.6,1008.6 1444.8,1015.9 1465.2,1022.4 1485.6,1027.5 1506,1031.6 1529,1035 1553.2,1037.5 1580,1039.4 1609.4,1040.6 1691,1041.8 L1691.0,1044.0 L727.8,1044.0 Z" fill="url(#gg)"/>
<path d="M727.8,1041.8 769.9,1041.4 803.1,1040.6 831.1,1039.3 855.4,1037.5 878.4,1034.9 898.8,1031.7 917.9,1027.6 937,1022.3 953.6,1016.7 970.2,1010.1 986.8,1002.4 1003.4,993.7 1018.7,984.8 1034,975.2 1097.8,932.9 1114.4,923.1 1128.4,915.7 1145,908.5 1160.3,903.6 1175.6,900.6 1183.3,899.9 1190.9,899.6 1212.6,900 1221.5,901 1229.2,902.3 1236.8,904.2 1245.8,907.1 1264.9,915 1272.6,918.5 1275.1,920.1 1295.5,933.4 1315.9,947.6 1346.6,966.8 1368.2,979.8 1386.1,989.8 1406.5,1000.1 1425.6,1008.6 1444.8,1015.9 1465.2,1022.4 1485.6,1027.5 1506,1031.6 1529,1035 1553.2,1037.5 1580,1039.4 1609.4,1040.6 1645.1,1041.4 1691,1041.8" fill="none" stroke="#35AA6A" stroke-width="13.0" stroke-linejoin="round" stroke-linecap="round"/>
<rect x="161.3" y="1035.1" width="1652.3" height="13.8" fill="#35AA6A"/>
<path d="M1060.8,904.7 1065.9,901.2 1072.3,898 1076.1,895.3 1087.6,892.2 1097.8,886.7 1108,883 1113.1,881.9 1122,882.3 1129.7,880.8 1134.8,880.5" fill="none" stroke="#4f4f4f" stroke-width="9" stroke-linejoin="round" stroke-linecap="round"/>
<path d="M1129.7,881.2 1133.5,878.9 1138.6,874.8 1142.4,873.6 1145,873.3 1150.1,873.6 1157.7,875 1167.9,874.9 1174.3,876.4 1176.9,876.1 1182,874.6 1184.5,875.4 1188.4,877.8 1190.9,878.8 1193.5,878.8 1198.6,877.5 1201.1,877.6 1206.2,881.2 1212.6,884.5 1216.4,887.3" fill="none" stroke="#4f4f4f" stroke-width="12" stroke-linejoin="round" stroke-linecap="round"/>
<path d="M1328.7,953.3 1335.1,955.3 1337.6,956.5 1344,960.9 1351.7,967.6 1354.2,969.2 1360.6,972.1 1368.2,978.5 1374.6,980.1 1377.2,981.4 1389.9,990.2 1397.6,993.6 1405.2,1000.2 1411.6,1002.9 1420.5,1007.6 1425.6,1011.3" fill="none" stroke="url(#dith)" stroke-width="11" stroke-linejoin="round" stroke-linecap="round"/>
<path d="M1527.7,1036.5 1534.1,1036.4 1540.5,1037.4 1545.6,1037.2 1554.5,1037.7 1558.3,1037.1 1564.7,1035.2 1572.4,1034.8 1576.2,1035.9 1580,1038.6 1582.6,1039.8 1585.1,1039.7 1591.5,1037.5 1594,1037.8 1597.9,1039.4 1600.4,1039.7 1605.5,1037.7 1608.1,1037.2 1610.6,1037.8 1615.7,1040.4 1618.3,1040.8 1620.8,1040.1 1627.2,1037.3 1629.8,1037.1 1632.3,1038.3 1638.7,1044 1641.2,1044.6 1643.8,1043.5 1648.9,1039.8 1651.5,1038.4 1656.6,1036.7 1660.4,1036.1 1662.9,1036.4 1665.5,1037.3 1674.4,1041.4 1677,1041.5 1680.8,1040.1 1682.1,1040.1 1683.3,1040.5 1687.2,1043 1689.7,1043.5 1692.3,1042.8 1699.9,1038.7 1702.5,1038.2 1705,1038.5 1712.7,1041.4 1715.2,1041.3 1721.6,1038 1724.2,1037.7 1731.8,1039.5 1739.5,1039.5 1747.1,1041.8 1751,1042 1758.6,1039 1765,1037.7 1770.1,1034.1 1772.7,1033.4 1775.2,1034.3 1780.3,1037.4 1782.9,1038.1 1790.5,1037.5 1798.2,1037.7 1803.3,1038.3 1807.1,1039.5" fill="none" stroke="url(#dith)" stroke-width="11" stroke-linejoin="round" stroke-linecap="round"/>
<path d="M167.8,1042 382.1,1041.9 421.6,1041.6 452.2,1040.9 488,1039.4 516,1037.4 544.1,1034.2 577.3,1029.3 602.8,1024.7 718.9,1001.8 775,991.4 805.6,984.7 837.5,976.8 873.2,966.8 914.1,953.8 947.2,942.4 998.3,923.8 1012.3,919.4 1040.4,911.5 1054.4,907 1095.2,891.3 1110.5,886 1120.7,883.1 1129.7,881.2 1138.6,880.2 1147.5,879.9 1179.4,881.5 1190.9,882.6 1201.1,884 1211.3,886.1 1220.3,888.4 1229.2,891.5 1236.8,894.7 1253.4,903.3 1278.9,919 1301.9,934.3 1354.2,971 1373.3,983.3 1392.5,994.6 1412.9,1005.4 1432,1014 1452.4,1021.4 1472.8,1027.2 1493.3,1031.6 1516.2,1035.2 1539.2,1037.6 1564.7,1039.2 1615.7,1040.8 1655.3,1041.5 1807.1,1042" fill="none" stroke="#B078DE" stroke-width="13.0" stroke-linejoin="round" stroke-linecap="square"/>
<path d="M378.8,1255.8 434.9,1255.1 477,1253.5 512.7,1250.8 544.6,1246.7 572.7,1241.5 600.7,1234.7 626.3,1227.3 683.7,1209.2 710.5,1202 725.8,1198.9 739.8,1196.7 753.8,1195.4 767.9,1195 781.9,1195.4 797.2,1196.8 812.5,1199 827.8,1202 857.2,1209.4 917.1,1227.1 945.2,1234.7 975.8,1241.7 1005.2,1246.7 1039.6,1250.8 1077.9,1253.5 1122.5,1255.1 1182.5,1255.8 L1182.5,1258.0 L378.8,1258.0 Z" fill="url(#gr)"/>
<path d="M378.8,1255.8 434.9,1255.1 477,1253.5 512.7,1250.8 544.6,1246.7 572.7,1241.5 600.7,1234.7 626.3,1227.3 683.7,1209.2 710.5,1202 725.8,1198.9 739.8,1196.7 753.8,1195.4 767.9,1195 781.9,1195.4 797.2,1196.8 812.5,1199 827.8,1202 857.2,1209.4 917.1,1227.1 945.2,1234.7 975.8,1241.7 1005.2,1246.7 1039.6,1250.8 1077.9,1253.5 1122.5,1255.1 1182.5,1255.8" fill="none" stroke="#EE4040" stroke-width="13.0" stroke-linejoin="round" stroke-linecap="round"/>
<path d="M752.6,1255.8 781.9,1254.7 793.4,1253.5 802.3,1252.1 811.2,1250 820.2,1246.9 827.8,1243.5 835.5,1239 841.9,1234.5 848.2,1229.2 854.6,1223.1 862.3,1214.7 873.8,1200.4 899.3,1165.4 912,1150.4 918.4,1144.6 924.8,1140.2 931.2,1137.5 937.5,1136.5 943.9,1137.3 950.3,1139.9 956.7,1144.2 963.1,1149.9 969.4,1156.8 975.8,1164.7 1001.3,1199.7 1014.1,1215.6 1021.7,1223.9 1028.1,1229.9 1034.5,1235.1 1040.9,1239.5 1048.5,1243.8 1056.2,1247.2 1063.8,1249.8 1072.8,1252 1081.7,1253.5 1093.2,1254.7 1123.8,1255.8 L1123.8,1258.0 L752.6,1258.0 Z" fill="url(#gb)"/>
<path d="M752.6,1255.8 781.9,1254.7 793.4,1253.5 802.3,1252.1 811.2,1250 820.2,1246.9 827.8,1243.5 835.5,1239 841.9,1234.5 848.2,1229.2 854.6,1223.1 862.3,1214.7 873.8,1200.4 899.3,1165.4 905.7,1157.4 912,1150.4 918.4,1144.6 924.8,1140.2 931.2,1137.5 937.5,1136.5 943.9,1137.3 950.3,1139.9 956.7,1144.2 963.1,1149.9 969.4,1156.8 975.8,1164.7 1001.3,1199.7 1014.1,1215.6 1021.7,1223.9 1028.1,1229.9 1034.5,1235.1 1040.9,1239.5 1048.5,1243.8 1056.2,1247.2 1063.8,1249.8 1072.8,1252 1081.7,1253.5 1093.2,1254.7 1123.8,1255.8" fill="none" stroke="#1A6CDC" stroke-width="13.0" stroke-linejoin="round" stroke-linecap="round"/>
<path d="M659.4,1255.8 743.6,1255.1 806.1,1253.6 859.7,1251.1 908.2,1247.2 954.1,1241.8 1000.1,1234.7 1042.2,1226.9 1145.5,1206.2 1162.1,1203.4 1188.9,1200.7 1223.3,1198.9 1243.7,1198.5 1292.2,1199.7 1306.2,1200.7 1319,1202.1 1381.5,1212.5 1465.7,1228.2 1504,1234.8 1547.4,1241.2 1589.5,1246.1 1635.4,1250 1683.9,1252.7 1740,1254.5 1807.6,1255.5 L1807.6,1258.0 L659.4,1258.0 Z" fill="url(#gg)"/>
<path d="M659.4,1255.8 743.6,1255.1 806.1,1253.6 859.7,1251.1 908.2,1247.2 954.1,1241.8 1000.1,1234.7 1042.2,1226.9 1145.5,1206.2 1162.1,1203.4 1174.8,1201.8 1188.9,1200.7 1223.3,1198.9 1243.7,1198.5 1292.2,1199.7 1306.2,1200.7 1319,1202.1 1381.5,1212.5 1465.7,1228.2 1504,1234.8 1547.4,1241.2 1589.5,1246.1 1635.4,1250 1683.9,1252.7 1740,1254.5 1807.6,1255.5" fill="none" stroke="#35AA6A" stroke-width="13.0" stroke-linejoin="round" stroke-linecap="round"/>
<rect x="154.1" y="1249.1" width="1660.0" height="13.8" fill="#35AA6A"/>
<path d="M153.4,1240.2 154.4,1233.1 155.4,1229.5 159.4,1228.8 165.4,1229.6 171.4,1231.2 175.4,1230.4 180.4,1234.7 184.4,1234.7 190.4,1235.5 198.4,1238 202.4,1240.4 203.4,1240.3 206.4,1238.6 209.4,1238.3 213.4,1236.9 217.4,1240 221.4,1239.3 226.4,1240.9 232.4,1239.3 236.4,1239.6 244.4,1235.8 246.4,1235.3 247.4,1235.7 250.4,1238.7 252.4,1239.4 259.4,1235.3 261.4,1235.3 264.4,1236.2 270.4,1234.9 275.4,1228.5 279.4,1226.8 282.4,1224.2 287.4,1227.3 290.4,1230.5 294.4,1236.3 297.4,1238.7 300.4,1235.9 304.4,1233.8 308.4,1229.1 310.4,1228.7 313.4,1229.6 315.4,1229.5 327.4,1247.4 329.4,1244.7 332.4,1242 336.4,1235.7 342.4,1234.2 345.4,1231.7 350.4,1233.8 353.4,1233.4 354.4,1233.7 357.4,1236.2 366.4,1232.4 371.4,1227.3 372.4,1227.6 374.4,1229.7 378.4,1237 379.4,1238.1 380.4,1238.3 383.4,1237.5 385.4,1238 389.4,1242.8 391.4,1244.1 392.4,1244.2 394.4,1242.6 397.4,1242 400.4,1239.5 404.4,1238.1 407.4,1234.7 413.4,1232.6 415.4,1232.3 416.4,1232.7 419.4,1235.4 421.4,1236.1 426.4,1235.4 432.4,1232 434.4,1232.9 438.4,1237.4 443.4,1237 444.4,1237.8 448.4,1244.1 451.4,1246.5 454.4,1248.1 455.4,1248.2 458.4,1246.1 463.4,1239.7 467.4,1238.7 470.4,1236.7 474.4,1235.3 478.4,1232.7 486.4,1232.4 490.4,1229.9 494.4,1230.2 499.4,1226.3 502.4,1224.9 505.4,1221.4 507.4,1223 512.4,1229.7 515.4,1231.5 516.4,1232.6 523.4,1245.5 527.4,1243.2 529.4,1242.6 533.4,1243.4 537.4,1242.6 539.4,1241.7 542.4,1238.5 543.4,1238.1 546.4,1239 548.4,1238.7 553.4,1235.1 559.4,1232.5 571.4,1222.2 576.4,1222.6 579.4,1220.6 584.4,1218.9 588.4,1215.9 592.4,1209.9 594.4,1209 597.4,1210.3 598.4,1210.3 602.4,1208.6 607.4,1211.1 615.4,1211.2 619.4,1216.7 624.4,1219.1 630.4,1224.3 632.4,1224.2 632.4,1226.2 630.4,1226.3 626.4,1222.8 625.4,1222.7 581.4,1235.5 547.4,1246.7 535.4,1250.2 520.4,1253.2 500.4,1255.2 464.4,1256.8 416.4,1257.6 153.4,1257.5Z" fill="#4f4f4f"/>
<path d="M1028.1,1198.9 1032,1197.9 1034.5,1197.7 1037.1,1197.9 1042.2,1199.3 1049.8,1202.9 1061.3,1205.6 1071.5,1211.9 1074.1,1212.8 1076.6,1212.1 1081.7,1207 1083,1206.2 1084.3,1205.9 1085.5,1206.3 1090.6,1209.7 1091.9,1210.1 1094.5,1209.6 1104.7,1202.1 1108.5,1200.8 1116.2,1202.3 1127.6,1199 1134,1199.9 1136.6,1199.6 1146.8,1196.3 1150.6,1195.7 1151.9,1195.8 1155.7,1197.6 1167.2,1201.2" fill="none" stroke="#4f4f4f" stroke-width="12" stroke-linejoin="round" stroke-linecap="round"/>
<path d="M1311.3,1199.8 1317.7,1195.9 1322.8,1193.8 1325.4,1193.3 1326.6,1193.6 1330.5,1196.3 1333,1197.6 1343.2,1198.9 1347.1,1198.4 1356,1195.4 1357.3,1195.8 1358.5,1197.1 1364.9,1204.8 1371.3,1211.1" fill="none" stroke="url(#dith)" stroke-width="12" stroke-linejoin="round" stroke-linecap="round"/>
<path d="M160.6,1257.5 392.8,1257.7 437.5,1257.4 469.3,1256.7 494.9,1255.5 512.7,1254.2 526.8,1252.2 543.3,1247.9 580.3,1235.9 633.9,1220.1 650.5,1214.5 699,1197.2 713,1192.9 727,1189.2 746.2,1185.3 764,1183.1 778.1,1182.4 808.7,1182.3 821.5,1181.5 832.9,1179.6 843.1,1176.8 849.5,1174.2 854.6,1171.6 861,1167.5 866.1,1163.5 875,1154.9 896.7,1131 903.1,1125 908.2,1120.9 914.6,1116.9 921,1114 927.3,1112.2 935,1111.4 942.6,1112.2 950.3,1114.7 958,1119 964.3,1124.2 969.4,1129.4 975.8,1137 997.5,1166.9 1006.4,1178.3 1016.6,1189.5 1025.6,1197.5 1033.2,1203.1 1042.2,1208 1051.1,1211.5 1061.3,1213.9 1068.9,1214.9 1076.6,1215.2 1084.3,1215 1093.2,1214.2 1109.8,1211.7 1155.7,1203 1169.7,1201.2 1185,1199.9 1209.3,1198.9 1259,1198.3 1279.4,1198.3 1296,1198.9 1317.7,1201 1339.4,1204.7 1414.7,1221.2 1461.9,1232.3 1481,1236.1 1511.6,1240.9 1570.3,1248.2 1593.3,1250.5 1616.2,1252.3 1669.8,1255 1717,1255.9 1807.6,1256" fill="none" stroke="#B078DE" stroke-width="13.0" stroke-linejoin="round" stroke-linecap="square"/>
</g>
<text x="195.7" y="311.0" font-size="69.5" fill="#FF80FF" xml:space="preserve">105 °C</text>
<text x="593.6" y="227.5" font-size="69.5" fill="#EE4040" xml:space="preserve">302 °C</text>
<text x="944.5" y="207.8" font-size="69.5" fill="#1A6CDC" xml:space="preserve">378 °C</text>
<text x="1245.1" y="256.5" font-size="69.5" fill="#35AA6A" xml:space="preserve">472 °C</text>
<text x="185.6" y="532.8" font-size="69.5" fill="#FF80FF" xml:space="preserve">95 °C</text>
<text x="607.9" y="429.0" font-size="69.5" fill="#EE4040" xml:space="preserve">298 °C</text>
<text x="862.9" y="427.7" font-size="69.5" fill="#1A6CDC" xml:space="preserve">365 °C</text>
<text x="1187.7" y="433.8" font-size="69.5" fill="#35AA6A" xml:space="preserve">443 °C</text>
<text x="209.8" y="751.9" font-size="69.5" fill="#FF80FF" xml:space="preserve">104 °C</text>
<text x="656.3" y="662.0" font-size="69.5" fill="#EE4040" xml:space="preserve">300 °C</text>
<text x="890.3" y="650.0" font-size="69.5" fill="#1A6CDC" xml:space="preserve">360 °C</text>
<text x="1214.4" y="686.2" font-size="69.5" fill="#35AA6A" xml:space="preserve">448 °C</text>
<text x="610.2" y="982.8" font-size="69.5" fill="#EE4040" xml:space="preserve">285 °C</text>
<text x="837.8" y="920.7" font-size="69.5" fill="#1A6CDC" xml:space="preserve">373 °C</text>
<text x="1243.9" y="896.9" font-size="69.5" fill="#35AA6A" xml:space="preserve">458 °C</text>
<text x="610.2" y="1155.5" font-size="69.5" fill="#EE4040" xml:space="preserve">290 °C</text>
<text x="982.5" y="1138.4" font-size="69.5" fill="#1A6CDC" xml:space="preserve">357 °C</text>
<text x="1251.2" y="1158.0" font-size="69.5" fill="#35AA6A" xml:space="preserve">477 °C</text>
<text x="1788.2" y="340.2" font-size="82.5" text-anchor="end" fill="#000">Al@Co<tspan font-size="56" dy="21">3</tspan><tspan dy="-21">O</tspan><tspan font-size="56" dy="21">4</tspan><tspan dy="-21">-8</tspan></text>
<text x="1804.0" y="538.0" font-size="82.5" text-anchor="end" fill="#000">Al@Co<tspan font-size="56" dy="21">3</tspan><tspan dy="-21">O</tspan><tspan font-size="56" dy="21">4</tspan><tspan dy="-21">-6</tspan></text>
<text x="1794.9" y="769.7" font-size="82.5" text-anchor="end" fill="#000">Al@Co<tspan font-size="56" dy="21">3</tspan><tspan dy="-21">O</tspan><tspan font-size="56" dy="21">4</tspan><tspan dy="-21">-4</tspan></text>
<text x="1798.8" y="1000.2" font-size="82.5" text-anchor="end" fill="#000">Al@Co<tspan font-size="56" dy="21">3</tspan><tspan dy="-21">O</tspan><tspan font-size="56" dy="21">4</tspan></text>
<text x="1793.1" y="1207.2" font-size="82.5" text-anchor="end" fill="#000">Co<tspan font-size="56" dy="21">3</tspan><tspan dy="-21">O</tspan><tspan font-size="56" dy="21">4</tspan></text>
<text x="1800.5" y="1332.8" font-size="78" text-anchor="end" fill="#000" xml:space="preserve"><tspan font-weight="normal">×</tspan><tspan dx="-3.5"> 2</tspan></text>
<text x="282.6" y="1470" font-size="89.7" text-anchor="middle" fill="#000">100</text>
<text x="537.7" y="1470" font-size="89.7" text-anchor="middle" fill="#000">200</text>
<text x="792.9" y="1470" font-size="89.7" text-anchor="middle" fill="#000">300</text>
<text x="1048.0" y="1470" font-size="89.7" text-anchor="middle" fill="#000">400</text>
<text x="1303.2" y="1470" font-size="89.7" text-anchor="middle" fill="#000">500</text>
<text x="1558.3" y="1470" font-size="89.7" text-anchor="middle" fill="#000">600</text>
<text x="1813.5" y="1470" font-size="89.7" text-anchor="middle" fill="#000">700</text>
<text x="986.2" y="1634.5" font-size="113.2" text-anchor="middle" fill="#000">Temperature (°C)</text>
<text transform="translate(88,687) rotate(-90)" font-size="114.5" text-anchor="middle" fill="#000">TCD signal (a.u.)</text>
</svg></body></html>
